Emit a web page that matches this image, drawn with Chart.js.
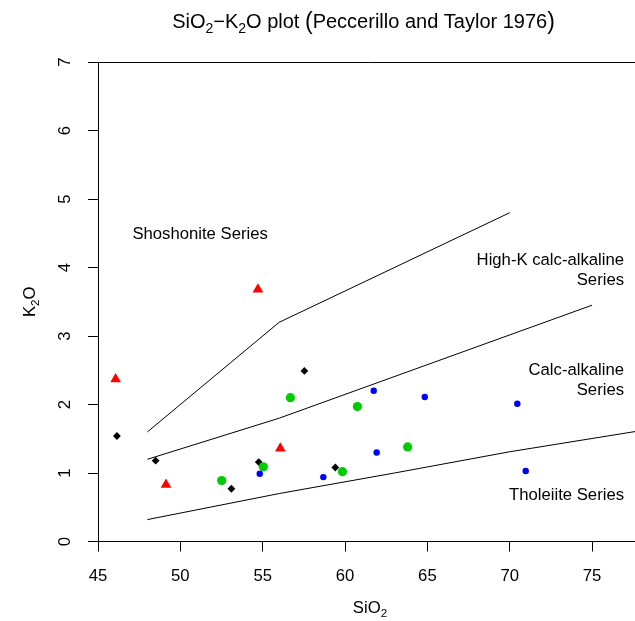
<!DOCTYPE html>
<html>
<head>
<meta charset="utf-8">
<script src="https://cdn.jsdelivr.net/npm/chart.js@4.4.1/dist/chart.umd.min.js"></script>
<style>
  html, body { margin: 0; padding: 0; background: #fff; overflow: hidden; }
  #wrap { width: 635px; height: 621px; overflow: hidden; position: relative; }
  canvas { display: block; }
</style>
</head>
<body>
<div id="wrap"><canvas id="c" width="660" height="621"></canvas></div>
<script>
const FONT = '"Liberation Sans", Arial, Helvetica, sans-serif';

// Peccerillo & Taylor (1976) field boundaries
const shoshoniteSiO2 = [48, 56, 70];
const shoshoniteK2O  = [1.6, 3.2, 4.8];
const highKSiO2      = [48, 56, 75];
const highKK2O       = [1.2, 1.8, 3.45];
const tholeiiteSiO2  = [48, 56, 63, 70, 78];
const tholeiiteK2O   = [0.32, 0.70, 1.0, 1.31, 1.62];

// sample groups
const redSiO2   = [46.07, 54.71, 49.13, 56.07];
const redK2O    = [2.37, 3.68, 0.83, 1.36];
const blackSiO2 = [46.15, 48.5, 54.76, 53.1, 57.53, 59.41];
const blackK2O  = [1.54, 1.18, 1.16, 0.77, 2.49, 1.08];
const greenSiO2 = [52.51, 55.04, 56.68, 60.75, 59.84, 63.8];
const greenK2O  = [0.89, 1.09, 2.10, 1.97, 1.02, 1.38];
const blueSiO2  = [54.82, 61.74, 64.84, 61.92, 58.68, 70.46, 70.97];
const blueK2O   = [0.99, 2.20, 2.11, 1.30, 0.94, 2.01, 1.03];

// axes
const xTicks = [45, 50, 55, 60, 65, 70, 75];
const yTicks = [0, 1, 2, 3, 4, 5, 6, 7];

// field names
const fieldNames  = [['Shoshonite Series'], ['High-K calc-alkaline', 'Series'], ['Calc-alkaline', 'Series'], ['Tholeiite Series']];
const fieldNameX  = [51.2, 76.94, 76.94, 76.94];
const fieldNameY  = [4.49, 4.11, 2.50, 0.68];
const fieldAlign  = ['center', 'right', 'right', 'right'];

const toPts = (xs, ys) => xs.map((x, i) => ({ x: x, y: ys[i] }));

// text with subscripts: parts are [text, kind], kind 'n' normal, 's' subscript, 'p' tall paren
function partFont(kind, size) {
  const s = kind === 's' ? size * 0.7 : (kind === 'p' ? size * 1.15 : size);
  return s.toFixed(2) + 'px ' + FONT;
}
function richWidth(ctx, parts, size) {
  let w = 0;
  for (const [t, k] of parts) { ctx.font = partFont(k, size); w += ctx.measureText(t).width; }
  return w;
}
function drawRich(ctx, parts, x, y, size, align) {
  const w = richWidth(ctx, parts, size);
  let cx = align === 'center' ? x - w / 2 : (align === 'right' ? x - w : x);
  ctx.textAlign = 'left';
  ctx.textBaseline = 'alphabetic';
  const base = y + size * 0.35;
  for (const [t, k] of parts) {
    ctx.font = partFont(k, size);
    const dy = k === 's' ? size * 0.24 : (k === 'p' ? size * 0.04 : 0);
    ctx.fillText(t, cx, base + dy);
    cx += ctx.measureText(t).width;
  }
}

const decorations = {
  id: 'decorations',
  afterDatasetsDraw(chart) {
    const ctx = chart.ctx, xs = chart.scales.x, ys = chart.scales.y;
    ctx.save();
    ctx.fillStyle = '#000';
    ctx.font = '16.7px ' + FONT;
    ctx.textBaseline = 'middle';
    fieldNames.forEach((lines, i) => {
      const px = xs.getPixelForValue(fieldNameX[i]);
      const py = ys.getPixelForValue(fieldNameY[i]);
      ctx.textAlign = fieldAlign[i];
      lines.forEach((ln, j) => ctx.fillText(ln, px, py + j * 20));
    });
    ctx.restore();
  },
  afterDraw(chart) {
    const ctx = chart.ctx, a = chart.chartArea, ys = chart.scales.y;
    ctx.save();
    // upper edge of the plot box
    ctx.strokeStyle = '#000';
    ctx.lineWidth = 1;
    ctx.beginPath();
    ctx.moveTo(a.left, Math.floor(a.top) + 0.5);
    ctx.lineTo(a.right, Math.floor(a.top) + 0.5);
    ctx.stroke();

    ctx.fillStyle = '#000';
    // title
    drawRich(ctx, [['SiO', 'n'], ['2', 's'], ['\u2212K', 'n'], ['2', 's'], ['O plot ', 'n'], ['(', 'p'],
                   ['Peccerillo and Taylor 1976', 'n'], [')', 'p']], 363.5, 21, 20, 'center');
    // x axis title
    drawRich(ctx, [['SiO', 'n'], ['2', 's']], 370, 607, 16.7, 'center');
    // y axis title and tick labels, rotated
    ctx.save();
    ctx.translate(29, (a.top + a.bottom) / 2);
    ctx.rotate(-Math.PI / 2);
    drawRich(ctx, [['K', 'n'], ['2', 's'], ['O', 'n']], 0, 0, 16.7, 'center');
    ctx.restore();
    ys.ticks.forEach(t => {
      const py = ys.getPixelForValue(t.value);
      ctx.save();
      ctx.translate(65, py);
      ctx.rotate(-Math.PI / 2);
      ctx.font = '16.7px ' + FONT;
      ctx.textAlign = 'center';
      ctx.textBaseline = 'middle';
      ctx.fillText(String(t.value), 0, 0);
      ctx.restore();
    });
    ctx.restore();
  }
};

const axisLine = { display: true, color: '#000', width: 1 };
const tickMarks = { display: true, drawOnChartArea: false, drawTicks: true, tickLength: 10, color: '#000', lineWidth: 1 };

new Chart(document.getElementById('c'), {
  type: 'scatter',
  data: {
    datasets: [
      { label: 'Shoshonite / High-K', data: toPts(shoshoniteSiO2, shoshoniteK2O), showLine: true,
        borderColor: '#000', borderWidth: 1, pointRadius: 0, fill: false, order: 10 },
      { label: 'High-K / Calc-alkaline', data: toPts(highKSiO2, highKK2O), showLine: true,
        borderColor: '#000', borderWidth: 1, pointRadius: 0, fill: false, order: 10 },
      { label: 'Calc-alkaline / Tholeiite', data: toPts(tholeiiteSiO2, tholeiiteK2O), showLine: true,
        borderColor: '#000', borderWidth: 1, pointRadius: 0, fill: false, order: 10 },
      { label: 'black', data: toPts(blackSiO2, blackK2O), pointStyle: 'rectRot', pointRadius: 3.9,
        backgroundColor: '#000', borderColor: '#000', borderWidth: 0, order: 4 },
      { label: 'red', data: toPts(redSiO2, redK2O), pointStyle: 'triangle', pointRadius: 6.2,
        backgroundColor: '#ff0000', borderColor: '#ff0000', borderWidth: 0, order: 3 },
      { label: 'blue', data: toPts(blueSiO2, blueK2O), pointStyle: 'circle', pointRadius: 3.2,
        backgroundColor: '#0000ff', borderColor: '#0000ff', borderWidth: 0, order: 2 },
      { label: 'green', data: toPts(greenSiO2, greenK2O), pointStyle: 'circle', pointRadius: 4.6,
        backgroundColor: '#00cd00', borderColor: '#00cd00', borderWidth: 0, order: 1 }
    ]
  },
  options: {
    responsive: false,
    animation: false,
    devicePixelRatio: 1,
    events: [],
    layout: { padding: { top: 62, right: 18.5, left: 0, bottom: 0 } },
    plugins: { legend: { display: false }, tooltip: { enabled: false }, title: { display: false } },
    scales: {
      x: {
        type: 'linear', min: 45, max: 78,
        afterBuildTicks: s => { s.ticks = xTicks.map(v => ({ value: v })); },
        afterFit: s => { s.height = 79.5; },
        ticks: { font: { family: FONT, size: 16.7 }, color: '#000', padding: 15, maxRotation: 0, autoSkip: false },
        grid: tickMarks,
        border: axisLine
      },
      y: {
        type: 'linear', min: 0, max: 7,
        afterBuildTicks: s => { s.ticks = yTicks.map(v => ({ value: v })); },
        afterFit: s => { s.width = 98; },
        ticks: { display: false },
        grid: tickMarks,
        border: axisLine
      }
    }
  },
  plugins: [decorations]
});
</script>
</body>
</html>
